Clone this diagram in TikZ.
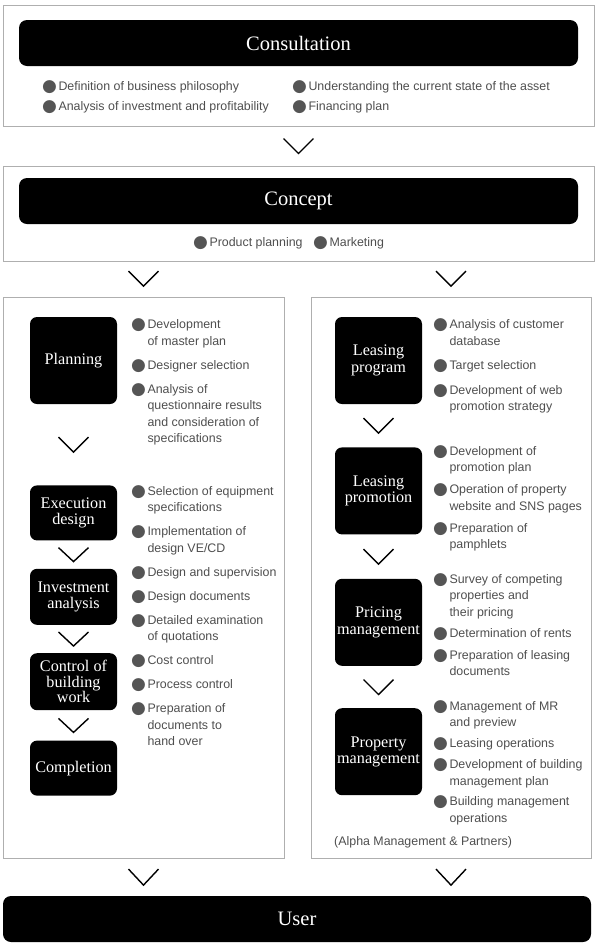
\documentclass[tikz,border=0pt]{standalone}
\usepackage{fontspec}
\setmainfont{Liberation Serif}
\setsansfont{Liberation Sans}
\newfontfamily\dotfont{DejaVu Sans}
\usepackage{xcolor}
\usetikzlibrary{positioning,calc}

\definecolor{txtgray}{RGB}{78,78,78}
\definecolor{bulgray}{RGB}{85,85,85}
\definecolor{framegray}{RGB}{175,175,175}
\newcommand{\bul}{\textcolor{bulgray}{\dotfont\fontsize{17}{17}\selectfont\raisebox{-1pt}{●}}\hspace{1.5pt}}
\newcommand{\ind}{\hphantom{\bul}}

\begin{document}
\begin{tikzpicture}[
  x=1pt, y=-1pt,
  node distance=28pt,
  frame/.style={draw=framegray, line width=0.8pt, inner sep=0pt},
  bar/.style={fill=black, text=white, rounded corners=8pt, minimum width=559, minimum height=46, font=\fontsize{20.5}{23}\selectfont},
  blk/.style={fill=black, text=white, rounded corners=7pt, minimum width=87, align=center, inner sep=1pt, font=\fontsize{16.2}{16.5}\selectfont},
  pts/.style={align=left, anchor=north west, inner sep=0pt, text=txtgray, font=\sffamily\fontsize{12.4}{16.5}\selectfont},
  chev/.style={line width=1.4pt}
]
\useasboundingbox (0,0) rectangle (598,946);

% frames
\node[frame, minimum width=591, minimum height=121] (consultframe) at (298.5,65.5) {};
\node[frame, minimum width=591, minimum height=95] (conceptframe) at (298.5,213.5) {};
\node[frame, minimum width=281, minimum height=561] (leftpanel) at (143.5,577.5) {};
\node[frame, minimum width=280, minimum height=561] (rightpanel) at (451,577.5) {};

% top bars
\node[bar] (consult) at (298.5,43) {Consultation};
\node[pts, anchor=west] (c1) at (42,87) {\bul Definition of business philosophy};
\node[pts, anchor=west] (c2) at (42,107) {\bul Analysis of investment and profitability};
\node[pts, anchor=west] (c3) at (292,87) {\bul Understanding the current state of the asset};
\node[pts, anchor=west] (c4) at (292,107) {\bul Financing plan};

\node[bar] (concept) at (298.5,201) {Concept};
\node[pts, anchor=west] (k1) at (193,243) {\bul Product planning};
\node[pts, anchor=west] (k2) at (313,243) {\bul Marketing};

% left column
\node[blk, minimum height=87] (planning) at (73.5,360.5) {Planning};
\node[blk, minimum height=55, below=81pt of planning] (execdesign) {Execution\\design};
\node[blk, minimum height=56, below=of execdesign] (investment) {Investment\\analysis};
\node[blk, minimum height=57, below=of investment, font=\fontsize{16.2}{15.5}\selectfont] (control) {Control of\\building\\work};
\node[blk, minimum height=55, below=30pt of control] (completion) {Completion};

\node[pts] (planpts) at (131,318.5) {\bul Development\\\ind of master plan\\[7.5pt]
  \bul Designer selection\\[7.5pt]
  \bul Analysis of\\\ind questionnaire results\\\ind and consideration of\\\ind specifications};
\node[pts] (workpts) at (131,485) {\bul Selection of equipment\\\ind specifications\\[7.5pt]
  \bul Implementation of\\\ind design VE/CD\\[7.5pt]
  \bul Design and supervision\\[7.5pt]
  \bul Design documents\\[7.5pt]
  \bul Detailed examination\\\ind of quotations\\[7.5pt]
  \bul Cost control\\[7.5pt]
  \bul Process control\\[7.5pt]
  \bul Preparation of\\\ind documents to\\\ind hand over};

% right column
\node[blk, minimum height=87] (leasingprog) at (378.5,360.5) {Leasing\\program};
\node[blk, minimum height=87, below=43pt of leasingprog] (leasingpromo) {Leasing\\promotion};
\node[blk, minimum height=87, below=44pt of leasingpromo] (pricing) {Pricing\\management};
\node[blk, minimum height=87, below=42pt of pricing] (propmgmt) {Property\\management};

\node[pts] (progpts) at (433,318.5) {\bul Analysis of customer\\\ind database\\[8pt]
  \bul Target selection\\[8pt]
  \bul Development of web\\\ind promotion strategy};
\node[pts] (promopts) at (433,445) {\bul Development of\\\ind promotion plan\\[5.5pt]
  \bul Operation of property\\\ind website and SNS pages\\[5.5pt]
  \bul Preparation of\\\ind pamphlets};
\node[pts] (pricepts) at (433,573) {\bul Survey of competing\\\ind properties and\\\ind their pricing\\[5pt]
  \bul Determination of rents\\[5pt]
  \bul Preparation of leasing\\\ind documents};
\node[pts] (proppts) at (433,700) {\bul Management of MR\\\ind and preview\\[4.5pt]
  \bul Leasing operations\\[4.5pt]
  \bul Development of building\\\ind management plan\\[4pt]
  \bul Building management\\\ind operations};
\node[pts, anchor=west] (alpha) at (334,842) {(Alpha Management \& Partners)};

% bottom bar
\node[bar, minimum width=588] (user) at (297,919) {User};

% chevrons
\draw[chev] ($(consultframe.south)!.5!(conceptframe.north)$) +(-15,-7.5) -- +(0,7.5) -- +(15,-7.5);
\draw[chev] ($(leftpanel.north)+(0,-18)$) +(-15,-7.5) -- +(0,7.5) -- +(15,-7.5);
\draw[chev] ($(rightpanel.north)+(0,-18)$) +(-15,-7.5) -- +(0,7.5) -- +(15,-7.5);
\draw[chev] ($(planning.south)!.5!(execdesign.north)$) +(-15,-7.5) -- +(0,7.5) -- +(15,-7.5);
\draw[chev] ($(execdesign.south)!.5!(investment.north)$) +(-15,-7) -- +(0,7) -- +(15,-7);
\draw[chev] ($(investment.south)!.5!(control.north)$) +(-15,-7) -- +(0,7) -- +(15,-7);
\draw[chev] ($(control.south)!.5!(completion.north)$) +(-15,-7) -- +(0,7) -- +(15,-7);
\draw[chev] ($(leasingprog.south)!.5!(leasingpromo.north)$) +(-15,-7.5) -- +(0,7.5) -- +(15,-7.5);
\draw[chev] ($(leasingpromo.south)!.5!(pricing.north)$) +(-15,-7.5) -- +(0,7.5) -- +(15,-7.5);
\draw[chev] ($(pricing.south)!.5!(propmgmt.north)$) +(-15,-7.5) -- +(0,7.5) -- +(15,-7.5);
\draw[chev] ($(leftpanel.south)!.5!(user.north -| leftpanel.south)$) +(-15,-8) -- +(0,8) -- +(15,-8);
\draw[chev] ($(rightpanel.south)!.5!(user.north -| rightpanel.south)$) +(-15,-8) -- +(0,8) -- +(15,-8);
\end{tikzpicture}
\end{document}
